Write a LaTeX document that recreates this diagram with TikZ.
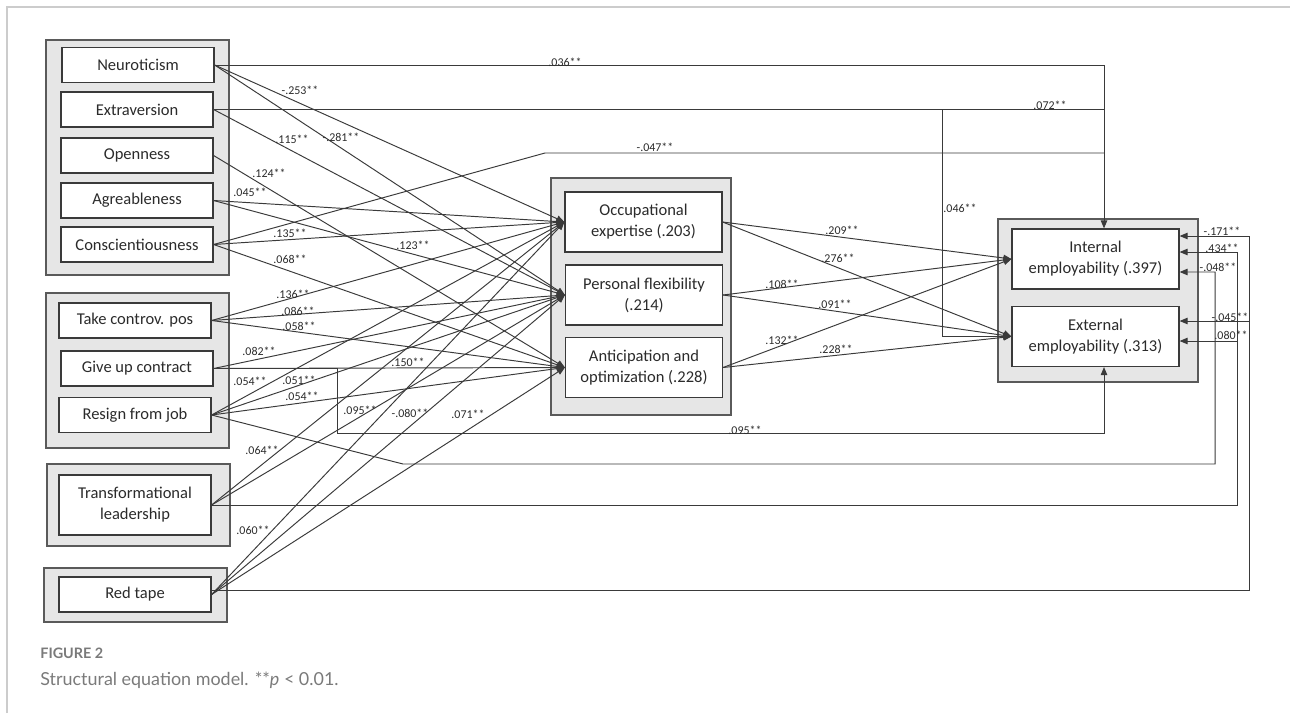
\documentclass[tikz,border=0pt]{standalone}
\usepackage{fontspec}
\setmainfont{Carlito}
\newfontfamily\capfont{Lato}
\usetikzlibrary{arrows.meta}
\definecolor{semInk}{HTML}{2B2B2B}
\definecolor{semLine}{HTML}{3A3A3A}
\definecolor{semShade}{HTML}{E6E6E6}
\definecolor{semFrame}{HTML}{5A5A5A}
\definecolor{semCap}{HTML}{7A7A7A}
\definecolor{semRule}{HTML}{CCCCCC}
\tikzset{
  sem frame/.style={draw=semFrame, fill=semShade, line width=0.75pt},
  sem box/.style={draw=semLine, fill=white, line width=0.7pt, align=center, text=semInk, font=\fontsize{9.4}{12}\selectfont, inner sep=0pt},
  sem left/.style={sem box, minimum width=3.04cm, minimum height=0.7cm},
  sem mid/.style={sem box, minimum width=3.14cm, minimum height=1.2cm},
  sem right/.style={sem box, minimum width=3.34cm, minimum height=1.2cm},
  sem link/.style={draw=semLine, line width=0.55pt},
  sem path/.style={sem link, -{Triangle[length=1.6mm,width=1.3mm]}},
  sem coef/.style={font=\fontsize{6.8}{8}\selectfont, text=semInk, inner sep=0pt},
  sem caption/.style={anchor=base west, inner sep=0pt, text=semCap},
}

\begin{document}
\begin{tikzpicture}[x=0.02cm,y=-0.02cm]
  \useasboundingbox (0,0) rectangle (1290,713);
  \draw[draw=semRule, line width=1pt] (7,713) -- (7,7) -- (1290,7);
  % Grey frames round the blocks of variables
  \draw[sem frame] (46,40) rectangle (229,275);
  \draw[sem frame] (46,293) rectangle (229,448);
  \draw[sem frame] (47,464) rectangle (230,546);
  \draw[sem frame] (44,568) rectangle (227,622);
  \draw[sem frame] (551,178) rectangle (731,415);
  \draw[sem frame] (998,219) rectangle (1198,382);

  % Predictors
  \node[sem left] (neu) at (138,65) {Neuroticism};
  \node[sem left] (ext) at (137,109.5) {Extraversion};
  \node[sem left] (ope) at (137,155.5) {Openness};
  \node[sem left] (agr) at (137,200.5) {Agreableness};
  \node[sem left] (con) at (137,244.5) {Conscientiousness};
  \node[sem left] (tak) at (135,320.5) {Take controv. pos};
  \node[sem left] (giv) at (137,368.5) {Give up contract};
  \node[sem left] (res) at (135,415) {Resign from job};
  \node[sem left, minimum height=1.2cm] (tra) at (135,505) {Transformational\\leadership};
  \node[sem left] (red) at (135,594.5) {Red tape};

  % Mediators and outcomes
  \node[sem mid] (occ) at (643.5,222) {Occupational\\expertise (.203)};
  \node[sem mid] (per) at (644,295) {Personal flexibility\\(.214)};
  \node[sem mid] (ant) at (644,367.5) {Anticipation and\\optimization (.228)};
  \node[sem right] (iemp) at (1095.5,259) {Internal\\employability (.397)};
  \node[sem right] (eemp) at (1095.5,336.5) {External\\employability (.313)};

  % Paths into the mediators
  \foreach \s/\t in {neu/occ,neu/per,ext/per,ope/ant,agr/occ,agr/per,con/occ,con/ant,
                     tak/occ,tak/per,tak/ant,giv/per,giv/ant,res/occ,res/per,res/ant,
                     tra/occ,tra/per,red/occ,red/per,red/ant}
    \draw[sem path] (\s.east) -- (\t.west);
  \foreach \s in {occ,per,ant}
    \foreach \t in {iemp,eemp}
      \draw[sem path] (\s.east) -- (\t.west);

  % Direct paths from the top
  \coordinate (intTop) at ([xshift=0.17cm]iemp.north);
  \coordinate (extBot) at ([xshift=0.17cm]eemp.south);
  \coordinate (conBend) at (545,153);
  \coordinate (extDrop) at (942,0);
  \coordinate (givDrop) at (337,433);
  \draw[sem path] (neu.east) -- (neu.east -| intTop) -- (intTop);
  \draw[sem link] (ext.east) -- (ext.east -| intTop);
  \draw[sem link] (con.east) -- (conBend) -- (conBend -| intTop);
  \draw[sem path] (ext.east -| extDrop) -- (extDrop |- eemp.west) -- (eemp.west);
  \draw[sem path] (giv.east) -- (giv.east -| givDrop) -- (givDrop) -- (givDrop -| extBot) -- (extBot);

  % Direct paths from the right
  \coordinate (resBend) at (403,464);
  \coordinate (busA) at (1215,0);
  \coordinate (busB) at (1237,0);
  \coordinate (busC) at (1249,0);
  \coordinate (iIn1) at ([yshift=0.46cm]iemp.east);
  \coordinate (iIn2) at ([yshift=0.14cm]iemp.east);
  \coordinate (iIn3) at ([yshift=-0.26cm]iemp.east);
  \coordinate (eIn1) at ([yshift=0.31cm]eemp.east);
  \coordinate (eIn2) at ([yshift=-0.09cm]eemp.east);
  \draw[sem path] (res.east) -- (resBend) -- (resBend -| busA) -- (busA |- iIn3) -- (iIn3);
  \draw[sem path] (tra.east) -- (tra.east -| busB) -- (busB |- iIn2) -- (iIn2);
  \draw[sem path] (busB |- eIn2) -- (eIn2);
  \draw[sem path] ([yshift=0.08cm]red.east) -- ([yshift=0.08cm]red.east -| busC) -- (busC |- iIn1) -- (iIn1);
  \draw[sem path] (busC |- eIn1) -- (eIn1);

  % Coefficients
  \foreach \x/\y/\t [count=\i] in {300/90/-.253**, 341/137/-.281**, 292/139/.115**, 269/173/.124**,
      250/192/.045**, 290/233/.135**, 413/245/.123**, 290/259/.068**,
      293/294/.136**, 298/311/.086**, 299/326/.058**, 259/351/.082**,
      250/381/.054**, 299/380/.051**, 302/396/.054**, 408/362/.150**,
      360/410/.095**, 410/413/-.080**, 468/414/.071**, 262/450/.064**,
      253/530/.060**, 745/430/.095**, 565/62/.036**, 1050/105/.072**,
      655/147/-.047**, 960/208/.046**, 842/230/.209**, 838/258/.276**,
      782/284/.108**, 835/304/.091**, 782/340/.132**, 836/349/.228**,
      1222/231/-.171**, 1222/248/.434**, 1218/267/-.048**, 1230/317/-.045**,
      1231/335/.080**}
    \node[sem coef] (coef\i) at (\x,\y) {\t};

  % Caption
  \node[sem caption, font=\capfont\bfseries\fontsize{8.2}{10}\selectfont] (figNo) at (40,658) {FIGURE 2};
  \node[sem caption, font=\capfont\fontsize{10.2}{12}\selectfont] (figCap) at (40,685) {Structural equation model. **\textit{p} < 0.01.};
\end{tikzpicture}
\end{document}
